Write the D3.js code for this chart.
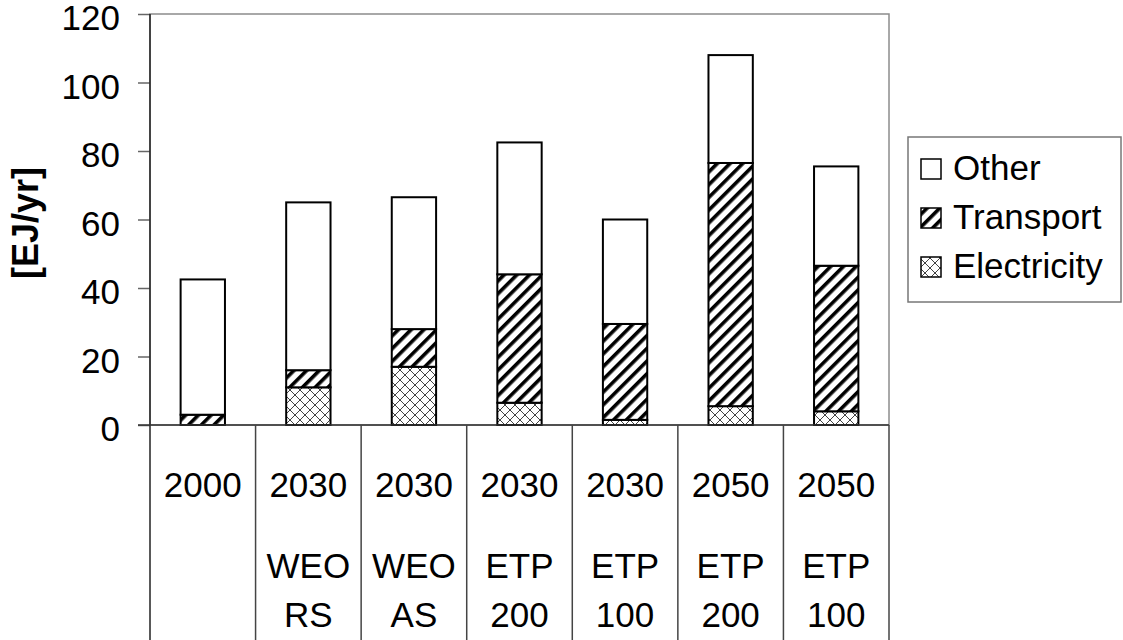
<!DOCTYPE html>
<html>
<head>
<meta charset="utf-8">
<script src="https://cdn.jsdelivr.net/npm/d3@7"></script>
<style>
  body { margin: 0; background: #fff; }
  text { font-family: "Liberation Sans", Arial, sans-serif; fill: #000; }
</style>
</head>
<body>
<script>
// data
var categories = ["c1", "c2", "c3", "c4", "c5", "c6", "c7"];
var labelLine1 = ["2000", "2030", "2030", "2030", "2030", "2050", "2050"];
var labelLine2 = ["", "WEO", "WEO", "ETP", "ETP", "ETP", "ETP"];
var labelLine3 = ["", "RS", "AS", "200", "100", "200", "100"];

var electricity = [0, 11, 17, 6.5, 1.5, 5.5, 4];
var transport = [3, 5, 11, 37.5, 28, 71, 42.5];
var other = [39.5, 49, 38.5, 38.5, 30.5, 31.5, 29];

var seriesNames = ["Electricity", "Transport", "Other"];
var yTicks = [0, 20, 40, 60, 80, 100, 120];

var svgWidth = 1123;
var svgHeight = 640;

var margin = { top: 14, left: 150, right: 234, bottom: 215 };
var plotRight = svgWidth - margin.right;
var plotBottom = svgHeight - margin.bottom;

var rows = categories.map(function(c, i) {
  return { cat: c, Electricity: electricity[i], Transport: transport[i], Other: other[i] };
});

var svg = d3.select("body")
  .append("svg")
  .attr("width", svgWidth)
  .attr("height", svgHeight);

// patterns
var defs = svg.append("defs");

var hatch = defs.append("pattern")
  .attr("id", "hatch")
  .attr("patternUnits", "userSpaceOnUse")
  .attr("width", 9)
  .attr("height", 9)
  .attr("patternTransform", "rotate(45)");
hatch.append("rect").attr("width", 9).attr("height", 9).attr("fill", "#fff");
hatch.append("rect").attr("x", 0).attr("width", 3.6).attr("height", 9).attr("fill", "#000");

var cross = defs.append("pattern")
  .attr("id", "cross")
  .attr("patternUnits", "userSpaceOnUse")
  .attr("width", 10)
  .attr("height", 10);
cross.append("rect").attr("width", 10).attr("height", 10).attr("fill", "#fff");
cross.append("path")
  .attr("d", "M0,0L10,10M10,0L0,10")
  .attr("stroke", "#444")
  .attr("stroke-width", 1)
  .attr("fill", "none");

var fills = { Electricity: "url(#cross)", Transport: "url(#hatch)", Other: "#fff" };

// scales
var x = d3.scaleBand().domain(categories).range([margin.left, plotRight]).padding(0);
var y = d3.scaleLinear().domain([0, 120]).range([plotBottom, margin.top]);
var barW = x.bandwidth() * 0.42;

// plot frame (grey top and right)
svg.append("rect")
  .attr("x", margin.left)
  .attr("y", margin.top)
  .attr("width", plotRight - margin.left)
  .attr("height", plotBottom - margin.top)
  .attr("fill", "none")
  .attr("stroke", "#8c8c8c")
  .attr("stroke-width", 1.5);

// stacked bars
var stack = d3.stack().keys(seriesNames);
var stacked = stack(rows);

svg.append("g")
  .selectAll("g")
  .data(stacked)
  .enter()
  .append("g")
  .attr("fill", function(s) { return fills[s.key]; })
  .selectAll("rect")
  .data(function(s) { return s.filter(function(d) { return d[1] - d[0] > 0; }); })
  .enter()
  .append("rect")
  .attr("x", function(d) { return x(d.data.cat) + (x.bandwidth() - barW) / 2; })
  .attr("y", function(d) { return y(d[1]); })
  .attr("width", barW)
  .attr("height", function(d) { return y(d[0]) - y(d[1]); })
  .attr("stroke", "#000")
  .attr("stroke-width", 2);

// y axis
var leftAxis = d3.axisLeft(y).tickValues(yTicks).tickSize(12).tickPadding(18);
var yAxisG = svg.append("g")
  .attr("transform", "translate(" + margin.left + ",0)")
  .call(leftAxis);
yAxisG.select(".domain").remove();
yAxisG.selectAll(".tick line").attr("stroke", "#666").attr("stroke-width", 1.5);
yAxisG.selectAll(".tick text")
  .style("font-size", "35px")
  .style("font-family", "'Liberation Sans', Arial, sans-serif")
  .attr("dy", "0.45em");

// axis lines
svg.append("line")
  .attr("x1", margin.left).attr("x2", margin.left)
  .attr("y1", margin.top).attr("y2", svgHeight)
  .attr("stroke", "#222").attr("stroke-width", 1.5);
svg.append("line")
  .attr("x1", margin.left - 12).attr("x2", plotRight)
  .attr("y1", plotBottom).attr("y2", plotBottom)
  .attr("stroke", "#333").attr("stroke-width", 1.5);

// category table dividers
var bounds = categories.map(function(c) { return x(c) + x.bandwidth(); });
svg.append("g")
  .selectAll("line")
  .data(bounds)
  .enter()
  .append("line")
  .attr("x1", function(d) { return d; })
  .attr("x2", function(d) { return d; })
  .attr("y1", plotBottom)
  .attr("y2", svgHeight)
  .attr("stroke", "#444")
  .attr("stroke-width", 1.5);

// category labels
var labelRows = [labelLine1, labelLine2, labelLine3];
var labelY = [497, 578, 627];
labelRows.forEach(function(line, r) {
  svg.append("g")
    .selectAll("text")
    .data(categories)
    .enter()
    .append("text")
    .attr("x", function(c) { return x(c) + x.bandwidth() / 2; })
    .attr("y", labelY[r])
    .attr("text-anchor", "middle")
    .style("font-size", "35px")
    .text(function(c, i) { return line[i]; });
});

// y axis title
svg.append("text")
  .attr("transform", "translate(38,223) rotate(-90)")
  .attr("text-anchor", "middle")
  .style("font-size", "36px")
  .style("font-weight", "bold")
  .text("[EJ/yr]");

// legend
var legend = svg.append("g");
legend.append("rect")
  .attr("x", 908).attr("y", 137)
  .attr("width", 213).attr("height", 165)
  .attr("fill", "#fff")
  .attr("stroke", "#777")
  .attr("stroke-width", 1.5);

var legendOrder = ["Other", "Transport", "Electricity"];
var legendItems = legend.selectAll("g.item")
  .data(legendOrder)
  .enter()
  .append("g")
  .attr("class", "item")
  .attr("transform", function(d, i) { return "translate(0," + (180 + i * 49) + ")"; });

legendItems.append("rect")
  .attr("x", 921).attr("y", -21)
  .attr("width", 20).attr("height", 20)
  .attr("fill", function(d) { return fills[d]; })
  .attr("stroke", "#000")
  .attr("stroke-width", 1.5);

legendItems.append("text")
  .attr("x", 953).attr("y", 0)
  .style("font-size", "35px")
  .text(function(d) { return d; });
</script>
</body>
</html>
